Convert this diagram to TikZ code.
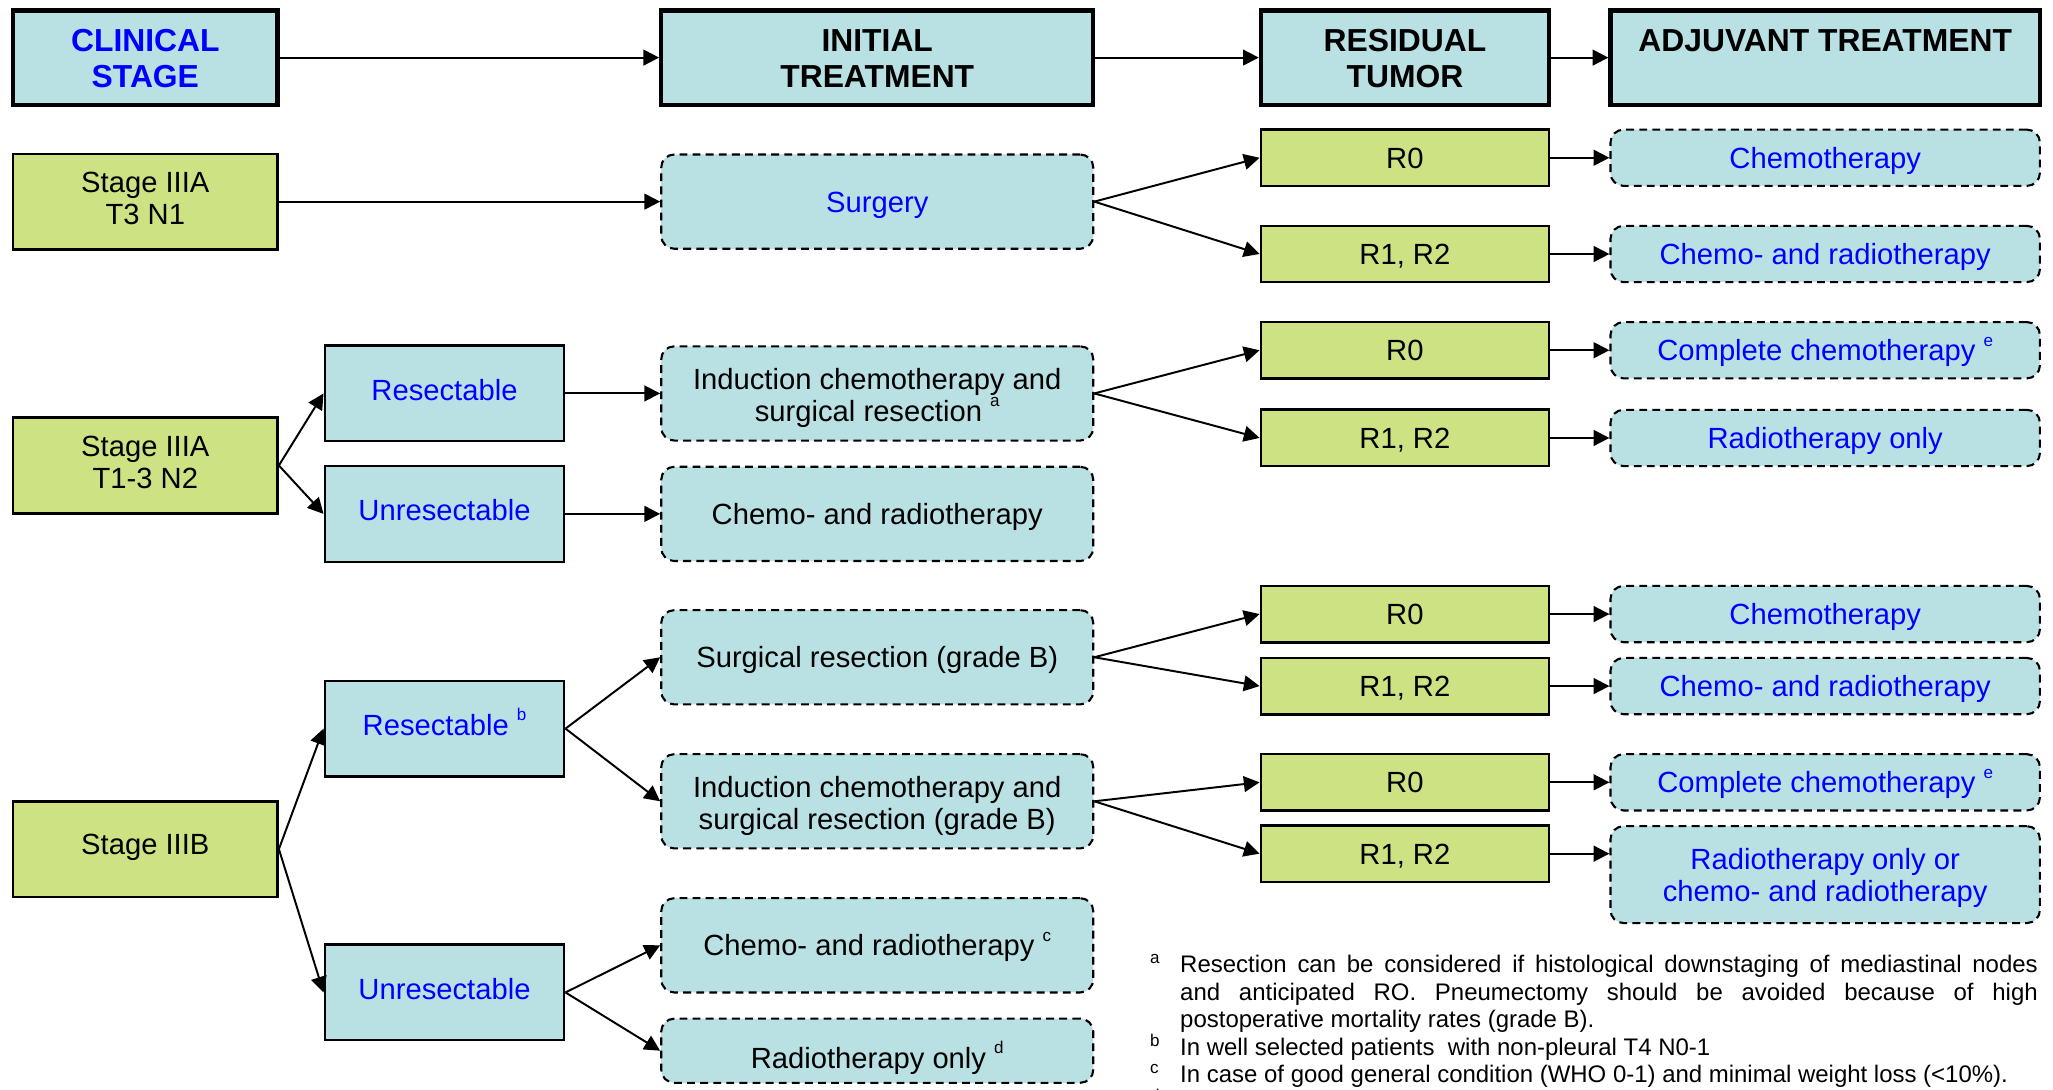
\documentclass[tikz,border=0pt]{standalone}
\usepackage{fontspec}
\setmainfont{Liberation Sans}
\usetikzlibrary{arrows.meta}

\definecolor{boxcyan}{RGB}{185,224,227}
\definecolor{boxgreen}{RGB}{205,227,131}
\definecolor{txtblue}{RGB}{0,0,255}

\newcommand\boxfont{\fontsize{11.15pt}{12.25pt}\selectfont}
\newcommand\hdrfont{\fontsize{12.15pt}{13.5pt}\selectfont\bfseries}
\newcommand\notefont{\fontsize{9.15pt}{10.5pt}\selectfont}
% raised footnote letter inside a box
\newcommand\fnmark[1]{\raisebox{0.5em}{\fontsize{6.5pt}{6.5pt}\selectfont #1}}
% footnote letter in the left margin of the note list
\newcommand\notemark[1]{\leavevmode\llap{\makebox[11.5pt][l]{\raisebox{3.5pt}{\fontsize{6.5pt}{6.5pt}\selectfont #1}}}}

% text height/depth are fixed so that every label sits at the same
% place in its box, whatever letters it contains
\tikzset{
  every node/.style={inner sep=0pt, align=center, font=\boxfont},
  hdr/.style={draw, line width=1.6pt, fill=boxcyan, font=\hdrfont, minimum height=36pt,
              text height=22.7pt, text depth=0pt},
  stagebox/.style={draw, line width=1pt, fill=boxgreen, minimum width=101pt, minimum height=36.5pt,
              text height=4.5pt, text depth=0pt},
  stagetwo/.style={text height=17.75pt, text depth=0pt},
  choice/.style={draw, line width=0.9pt, fill=boxcyan, text=txtblue, minimum width=91.5pt, minimum height=36.5pt,
              text height=5.3pt, text depth=0pt},
  treat/.style={draw, dash pattern=on 3pt off 2pt, line width=0.8pt, rounded corners=5pt, fill=boxcyan,
              minimum width=165pt, minimum height=36pt, text height=8pt, text depth=0pt},
  treattwo/.style={text height=21.25pt, text depth=0pt},
  resid/.style={draw, line width=1pt, fill=boxgreen, minimum width=110pt, minimum height=21.5pt,
              text height=8pt, text depth=0pt},
  adj/.style={treat, text=txtblue, minimum width=164pt, minimum height=21.5pt},
  adjtwo/.style={text height=20.25pt, text depth=0pt},
  link/.style={line width=0.75pt, -{Triangle[length=6pt,width=6pt]}},
}

\begin{document}
\begin{tikzpicture}[x=0.5pt, y=-0.5pt]
\useasboundingbox (0,0) rectangle (1568,832.5);

% column headings
\node[hdr, text=txtblue, minimum width=101pt] (hA) at (111,44) {CLINICAL\\STAGE};
\node[hdr, minimum width=165pt] (hC) at (670,44) {INITIAL\\TREATMENT};
\node[hdr, minimum width=110pt] (hD) at (1073,44) {RESIDUAL\\TUMOR};
\node[hdr, minimum width=164pt] (hE) at (1394,44) {ADJUVANT TREATMENT\\\mbox{}};
\draw[link] (hA) -- (hC);
\draw[link] (hC) -- (hD);
\draw[link] (hD) -- (hE);

% Stage IIIA T3 N1
\node[stagebox, stagetwo] (s1) at (111,154) {Stage IIIA\\T3 N1};
\node[treat, text=txtblue] (t1) at (670,154) {Surgery};
\node[resid] (r1a) at (1073,120.5) {R0};
\node[resid] (r1b) at (1073,194) {R1, R2};
\node[adj] (a1a) at (1394,120.5) {Chemotherapy};
\node[adj] (a1b) at (1394,194) {Chemo- and radiotherapy};
\draw[link] (s1) -- (t1);
\draw[link] (t1.east) -- (r1a.west);
\draw[link] (t1.east) -- (r1b.west);
\draw[link] (r1a) -- (a1a);
\draw[link] (r1b) -- (a1b);

% Stage IIIA T1-3 N2
\node[stagebox, stagetwo] (s2) at (111,355.5) {Stage IIIA\\T1-3 N2};
\node[choice] (c2a) at (339.5,300.5) {Resectable};
\node[choice] (c2b) at (339.5,392.5) {Unresectable};
\node[treat, treattwo] (t2a) at (670,300.5) {Induction chemotherapy and\\surgical resection \fnmark{a}};
\node[treat] (t2b) at (670,392.5) {Chemo- and radiotherapy};
\node[resid] (r2a) at (1073,267.5) {R0};
\node[resid] (r2b) at (1073,334.5) {R1, R2};
\node[adj] (a2a) at (1394,267.5) {Complete chemotherapy \fnmark{e}};
\node[adj] (a2b) at (1394,334.5) {Radiotherapy only};
\draw[link] (s2.east) -- (c2a.west);
\draw[link] (s2.east) -- (c2b.west);
\draw[link] (c2a) -- (t2a);
\draw[link] (c2b) -- (t2b);
\draw[link] (t2a.east) -- (r2a.west);
\draw[link] (t2a.east) -- (r2b.west);
\draw[link] (r2a) -- (a2a);
\draw[link] (r2b) -- (a2b);

% Stage IIIB
\node[stagebox] (s3) at (111,648.5) {Stage IIIB};
\node[choice] (c3a) at (339.5,556.5) {Resectable \fnmark{b}};
\node[choice] (c3b) at (339.5,758) {Unresectable};
\node[treat] (t3a) at (670,502) {Surgical resection (grade B)};
\node[treat, treattwo] (t3b) at (670,612) {Induction chemotherapy and\\surgical resection (grade B)};
\node[treat] (t3c) at (670,722) {Chemo- and radiotherapy \fnmark{c}};
\node[treat, minimum height=24.5pt, text height=13.5pt] (t3d) at (670,802.5) {Radiotherapy only \fnmark{d}};
\node[resid] (r3a) at (1073,469) {R0};
\node[resid] (r3b) at (1073,524) {R1, R2};
\node[resid] (r3c) at (1073,597.5) {R0};
\node[resid] (r3d) at (1073,652) {R1, R2};
\node[adj] (a3a) at (1394,469) {Chemotherapy};
\node[adj] (a3b) at (1394,524) {Chemo- and radiotherapy};
\node[adj] (a3c) at (1394,597.5) {Complete chemotherapy \fnmark{e}};
\node[adj, adjtwo, minimum height=37pt] (a3d) at (1394,668) {Radiotherapy only or\\chemo- and radiotherapy};
\draw[link] (s3.east) -- (c3a.west);
\draw[link] (s3.east) -- (c3b.west);
\draw[link] (c3a.east) -- (t3a.west);
\draw[link] (c3a.east) -- (t3b.west);
\draw[link] (c3b.east) -- (t3c.west);
\draw[link] (c3b.east) -- (t3d.west);
\draw[link] (t3a.east) -- (r3a.west);
\draw[link] (t3a.east) -- (r3b.west);
\draw[link] (t3b.east) -- (r3c.west);
\draw[link] (t3b.east) -- (r3d.west);
\draw[link] (r3a) -- (a3a);
\draw[link] (r3b) -- (a3b);
\draw[link] (r3c) -- (a3c);
\draw[link] (r3d.east) -- (r3d.east -| a3d.west);

% footnotes
\node[anchor=base west, text width=339pt, align=justify, font=\notefont] (notes) at (878,743) {%
\leftskip=11.5pt\parindent=0pt\parskip=0pt
\notemark{a}Resection can be considered if histological downstaging of mediastinal nodes\linebreak
and anticipated RO. Pneumectomy should be avoided because of high\linebreak
postoperative mortality rates (grade B).\par
\notemark{b}In well selected patients~ with non-pleural T4 N0-1\par
\notemark{c}In case of good general condition (WHO 0-1) and minimal weight loss (<10\%).\par
\notemark{d}\strut\par};
\end{tikzpicture}
\end{document}
